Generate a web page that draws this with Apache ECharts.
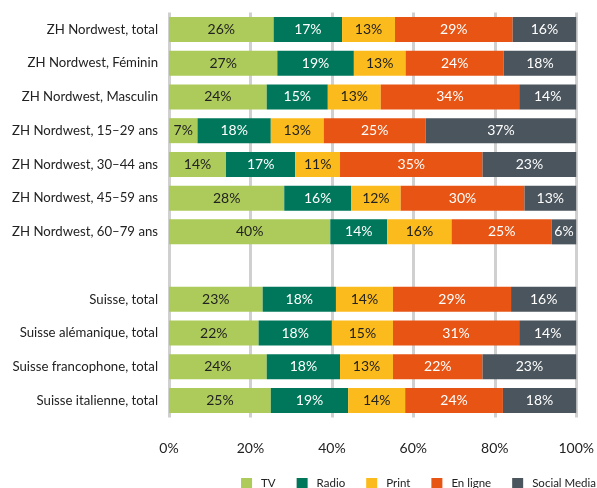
<!DOCTYPE html>
<html>
<head>
<meta charset="utf-8">
<script src="https://cdn.jsdelivr.net/npm/echarts@6/dist/echarts.min.js"></script>
<style>
html,body{margin:0;padding:0;background:#fff;overflow:hidden;}
#chart{width:597px;height:488px;}
</style>
</head>
<body>
<div id="chart"></div>
<script>
var categories = [
  'ZH Nordwest, total',
  'ZH Nordwest, Féminin',
  'ZH Nordwest, Masculin',
  'ZH Nordwest, 15–29 ans',
  'ZH Nordwest, 30–44 ans',
  'ZH Nordwest, 45–59 ans',
  'ZH Nordwest, 60–79 ans',
  '',
  'Suisse, total',
  'Suisse alémanique, total',
  'Suisse francophone, total',
  'Suisse italienne, total'
];
var seriesNames = ['TV', 'Radio', 'Print', 'En ligne', 'Social Media'];
var tv          = [25.7, 26.6, 24, 7, 14, 28.3, 39.6, null, 23, 22, 24, 25];
var radio       = [16.8, 18.8, 15, 18, 17, 16.4, 14.0, null, 18, 18, 18, 19];
var print       = [13.0, 12.7, 13, 13, 11, 12.2, 15.8, null, 14, 15, 13, 14];
var enLigne     = [28.9, 24.1, 34, 25, 35, 30.4, 24.6, null, 29, 31, 22, 24];
var socialMedia = [15.6, 17.8, 14, 37, 23, 12.7, 6.0, null, 16, 14, 23, 18];
var xTicks = [0, 20, 40, 60, 80, 100];

var colors = ['#adcb5a', '#00775a', '#fbbb1c', '#e85413', '#4b555d'];
var labelColors = ['#222222', '#ffffff', '#222222', '#ffffff', '#ffffff'];
var values = [tv, radio, print, enLigne, socialMedia];
var FONT = 'Lato';

var chart = echarts.init(document.getElementById('chart'), null, {renderer: 'canvas'});
var series = seriesNames.map(function (name, i) {
  return {
    name: name,
    type: 'bar',
    stack: 'total',
    data: values[i],
    barWidth: 25,
    itemStyle: {color: colors[i]},
    label: {
      show: true,
      position: 'inside',
      color: labelColors[i],
      fontFamily: FONT,
      fontSize: 14,
      formatter: function (p) { return p.value == null ? '' : Math.round(p.value) + '%'; }
    },
    emphasis: {disabled: true}
  };
});

chart.setOption({
  animation: false,
  textStyle: {fontFamily: FONT},
  grid: {left: 169, right: 17, top: 12.6, bottom: 70.6, containLabel: false},
  legend: {
    data: seriesNames,
    right: 1,
    top: 477.5,
    padding: 0,
    itemWidth: 11,
    itemHeight: 11,
    itemGap: 21,
    icon: 'rect',
    textStyle: {fontFamily: FONT, fontSize: 11.5, color: '#222', padding: [0, 0, 0, 4]},
    selectedMode: false
  },
  xAxis: {
    type: 'value',
    min: xTicks[0],
    max: xTicks[xTicks.length - 1],
    interval: 20,
    axisLine: {show: false},
    axisTick: {show: false},
    splitLine: {show: true, lineStyle: {color: '#d0d0d0', width: 3}},
    axisLabel: {
      margin: 24,
      fontFamily: FONT,
      fontSize: 14,
      color: '#222',
      formatter: function (v) { return v + '%'; }
    }
  },
  yAxis: {
    type: 'category',
    inverse: true,
    data: categories,
    axisLine: {show: false},
    axisTick: {show: false},
    axisLabel: {margin: 11, fontFamily: FONT, fontSize: 13.2, color: '#222'}
  },
  series: series
});
</script>
</body>
</html>
